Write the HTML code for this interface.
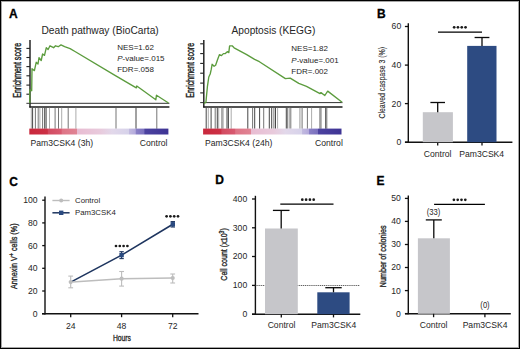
<!DOCTYPE html>
<html><head><meta charset="utf-8"><style>
html,body{margin:0;padding:0;background:#fff;}
body{width:520px;height:349px;overflow:hidden;}
svg{display:block;}
text{font-family:"Liberation Sans", sans-serif;}
</style></head><body>
<svg width="520" height="349" viewBox="0 0 520 349">
<rect width="520" height="349" fill="#fff"/>
<rect x="0.5" y="0.5" width="519" height="348" fill="none" stroke="#000" stroke-width="1"/>
<rect x="1.5" y="1.5" width="517" height="346" fill="none" stroke="#000" stroke-opacity="0.35" stroke-width="1"/>
<text x="9" y="17.8" font-size="12" text-anchor="start" font-weight="bold" fill="#000" stroke="#000" stroke-width="0.3">A</text>
<text x="377" y="17.6" font-size="12" text-anchor="start" font-weight="bold" fill="#000" stroke="#000" stroke-width="0.3">B</text>
<text x="9.3" y="185.6" font-size="12" text-anchor="start" font-weight="bold" fill="#000" stroke="#000" stroke-width="0.3">C</text>
<text x="215.2" y="184.4" font-size="12" text-anchor="start" font-weight="bold" fill="#000" stroke="#000" stroke-width="0.3">D</text>
<text x="376.5" y="184.6" font-size="12" text-anchor="start" font-weight="bold" fill="#000" stroke="#000" stroke-width="0.3">E</text>
<text x="41.5" y="34" font-size="10.2" text-anchor="start" font-weight="normal" fill="#262626" >Death pathway (BioCarta)</text>
<text transform="translate(20.6,70.35) rotate(-90)" font-size="10" text-anchor="middle" fill="#1e1e1e" stroke="#1e1e1e" stroke-width="0.4" textLength="55" lengthAdjust="spacingAndGlyphs">Enrichment score</text>
<line x1="26.4" y1="48.4" x2="30" y2="48.4" stroke="#222" stroke-width="1.1" />
<line x1="26.4" y1="57.5" x2="30" y2="57.5" stroke="#222" stroke-width="1.1" />
<line x1="26.4" y1="66.6" x2="30" y2="66.6" stroke="#222" stroke-width="1.1" />
<line x1="26.4" y1="75.8" x2="30" y2="75.8" stroke="#222" stroke-width="1.1" />
<line x1="26.4" y1="85.1" x2="30" y2="85.1" stroke="#222" stroke-width="1.1" />
<line x1="26.4" y1="94.2" x2="30" y2="94.2" stroke="#222" stroke-width="1.1" />
<line x1="26.4" y1="103.3" x2="169.4" y2="103.3" stroke="#333" stroke-width="1.0" />
<line x1="30" y1="40" x2="30" y2="107.6" stroke="#262626" stroke-width="1.5" />
<line x1="29.4" y1="107" x2="169.4" y2="107" stroke="#1a1a1a" stroke-width="1.4" />
<line x1="31.3" y1="107.8" x2="31.3" y2="128.8" stroke="#a8a8a8" stroke-width="0.95" />
<line x1="32.6" y1="107.8" x2="32.6" y2="128.8" stroke="#3c3c3c" stroke-width="0.95" />
<line x1="35.4" y1="107.8" x2="35.4" y2="128.8" stroke="#6e6e6e" stroke-width="0.95" />
<line x1="38.2" y1="107.8" x2="38.2" y2="128.8" stroke="#6e6e6e" stroke-width="0.95" />
<line x1="39.9" y1="107.8" x2="39.9" y2="128.8" stroke="#a8a8a8" stroke-width="0.95" />
<line x1="42.6" y1="107.8" x2="42.6" y2="128.8" stroke="#6e6e6e" stroke-width="0.95" />
<line x1="44.7" y1="107.8" x2="44.7" y2="128.8" stroke="#3c3c3c" stroke-width="0.95" />
<line x1="46.1" y1="107.8" x2="46.1" y2="128.8" stroke="#3c3c3c" stroke-width="0.95" />
<line x1="49.5" y1="107.8" x2="49.5" y2="128.8" stroke="#a8a8a8" stroke-width="0.95" />
<line x1="55.1" y1="107.8" x2="55.1" y2="128.8" stroke="#6e6e6e" stroke-width="0.95" />
<line x1="58.5" y1="107.8" x2="58.5" y2="128.8" stroke="#6e6e6e" stroke-width="0.95" />
<line x1="61.7" y1="107.8" x2="61.7" y2="128.8" stroke="#a8a8a8" stroke-width="0.95" />
<line x1="68.2" y1="107.8" x2="68.2" y2="128.8" stroke="#6e6e6e" stroke-width="0.95" />
<line x1="75.9" y1="107.8" x2="75.9" y2="128.8" stroke="#a8a8a8" stroke-width="0.95" />
<line x1="116" y1="107.8" x2="116" y2="128.8" stroke="#6e6e6e" stroke-width="0.95" />
<line x1="136" y1="107.8" x2="136" y2="128.8" stroke="#3c3c3c" stroke-width="0.95" />
<line x1="156.8" y1="107.8" x2="156.8" y2="128.8" stroke="#6e6e6e" stroke-width="0.95" />
<defs><linearGradient id="g30" x1="0" x2="1" y1="0" y2="0"><stop offset="0" stop-color="#c9283c"/><stop offset="0.13" stop-color="#cc3045"/><stop offset="0.135" stop-color="#d24a60"/><stop offset="0.23" stop-color="#d85a70"/><stop offset="0.235" stop-color="#de7486"/><stop offset="0.343" stop-color="#e08494"/><stop offset="0.345" stop-color="#e8bcd2"/><stop offset="0.509" stop-color="#e8cadc"/><stop offset="0.595" stop-color="#e2d8ea"/><stop offset="0.714" stop-color="#d6d2ea"/><stop offset="0.717" stop-color="#c2badf"/><stop offset="0.763" stop-color="#b4aadc"/><stop offset="0.765" stop-color="#8a80c6"/><stop offset="0.827" stop-color="#7a70be"/><stop offset="0.829" stop-color="#4c42a0"/><stop offset="1" stop-color="#3e3494"/></linearGradient></defs>
<rect x="29.3" y="128.6" width="139.1" height="5.9" fill="url(#g30)"/>
<polyline points="29.8,103.3 29.8,89.8 31.7,90.7 32,68.7 34.4,70.6 36.2,62.3 38,64 39,57.7 41.2,60.5 42.6,54 44.5,55.4 46.3,47.7 48.1,49.5 50,45.8 53.6,47.7 55.5,45.8 58.2,46.7 61,44.9 64.6,46.7 70.1,48.6 75,51.5 115.4,75.7 136.3,87.8 136.8,86.0 155.8,99.8 156.5,95.2 168.5,103" fill="none" stroke="#5c9c3e" stroke-width="1.35" stroke-linejoin="round"/>
<text x="117.2" y="50.1" font-size="8" text-anchor="start" font-weight="normal" fill="#262626" >NES=1.62</text>
<text x="117.2" y="61.1" font-size="8" fill="#262626"><tspan font-style="italic">P</tspan>-value=.015</text>
<text x="117.2" y="72.0" font-size="8" text-anchor="start" font-weight="normal" fill="#262626" >FDR=.058</text>
<text x="30.5" y="146.0" font-size="8.6" text-anchor="start" font-weight="normal" fill="#262626" >Pam3CSK4 (3h)</text>
<text x="167.5" y="146.0" font-size="8.6" text-anchor="end" font-weight="normal" fill="#262626" >Control</text>
<text x="231.5" y="33.5" font-size="10.2" text-anchor="start" font-weight="normal" fill="#262626" >Apoptosis (KEGG)</text>
<text transform="translate(194.0,70.35) rotate(-90)" font-size="10" text-anchor="middle" fill="#1e1e1e" stroke="#1e1e1e" stroke-width="0.4" textLength="55" lengthAdjust="spacingAndGlyphs">Enrichment score</text>
<line x1="200.20000000000002" y1="43.8" x2="203.8" y2="43.8" stroke="#222" stroke-width="1.1" />
<line x1="200.20000000000002" y1="53.6" x2="203.8" y2="53.6" stroke="#222" stroke-width="1.1" />
<line x1="200.20000000000002" y1="63.4" x2="203.8" y2="63.4" stroke="#222" stroke-width="1.1" />
<line x1="200.20000000000002" y1="73.2" x2="203.8" y2="73.2" stroke="#222" stroke-width="1.1" />
<line x1="200.20000000000002" y1="83.1" x2="203.8" y2="83.1" stroke="#222" stroke-width="1.1" />
<line x1="200.20000000000002" y1="92.9" x2="203.8" y2="92.9" stroke="#222" stroke-width="1.1" />
<line x1="200.20000000000002" y1="102.6" x2="342.5" y2="102.6" stroke="#333" stroke-width="1.0" />
<line x1="203.8" y1="40" x2="203.8" y2="107.6" stroke="#262626" stroke-width="1.5" />
<line x1="203.20000000000002" y1="107" x2="342.5" y2="107" stroke="#1a1a1a" stroke-width="1.4" />
<line x1="206.2" y1="107.8" x2="206.2" y2="128.8" stroke="#3c3c3c" stroke-width="0.95" />
<line x1="208.3" y1="107.8" x2="208.3" y2="128.8" stroke="#a8a8a8" stroke-width="0.95" />
<line x1="211.1" y1="107.8" x2="211.1" y2="128.8" stroke="#3c3c3c" stroke-width="0.95" />
<line x1="215.2" y1="107.8" x2="215.2" y2="128.8" stroke="#6e6e6e" stroke-width="0.95" />
<line x1="217.3" y1="107.8" x2="217.3" y2="128.8" stroke="#3c3c3c" stroke-width="0.95" />
<line x1="218.7" y1="107.8" x2="218.7" y2="128.8" stroke="#a8a8a8" stroke-width="0.95" />
<line x1="221.5" y1="107.8" x2="221.5" y2="128.8" stroke="#a8a8a8" stroke-width="0.95" />
<line x1="222.9" y1="107.8" x2="222.9" y2="128.8" stroke="#6e6e6e" stroke-width="0.95" />
<line x1="227.0" y1="107.8" x2="227.0" y2="128.8" stroke="#3c3c3c" stroke-width="0.95" />
<line x1="228.4" y1="107.8" x2="228.4" y2="128.8" stroke="#3c3c3c" stroke-width="0.95" />
<line x1="231.2" y1="107.8" x2="231.2" y2="128.8" stroke="#a8a8a8" stroke-width="0.95" />
<line x1="247.8" y1="107.8" x2="247.8" y2="128.8" stroke="#3c3c3c" stroke-width="0.95" />
<line x1="252.6" y1="107.8" x2="252.6" y2="128.8" stroke="#6e6e6e" stroke-width="0.95" />
<line x1="254.7" y1="107.8" x2="254.7" y2="128.8" stroke="#3c3c3c" stroke-width="0.95" />
<line x1="259.6" y1="107.8" x2="259.6" y2="128.8" stroke="#3c3c3c" stroke-width="0.95" />
<line x1="263.7" y1="107.8" x2="263.7" y2="128.8" stroke="#6e6e6e" stroke-width="0.95" />
<line x1="269.3" y1="107.8" x2="269.3" y2="128.8" stroke="#3c3c3c" stroke-width="0.95" />
<line x1="271.7" y1="107.8" x2="271.7" y2="128.8" stroke="#3c3c3c" stroke-width="0.95" />
<line x1="273.9" y1="107.8" x2="273.9" y2="128.8" stroke="#6e6e6e" stroke-width="0.95" />
<line x1="275.5" y1="107.8" x2="275.5" y2="128.8" stroke="#3c3c3c" stroke-width="0.95" />
<line x1="277.6" y1="107.8" x2="277.6" y2="128.8" stroke="#a8a8a8" stroke-width="0.95" />
<line x1="286.3" y1="107.8" x2="286.3" y2="128.8" stroke="#3c3c3c" stroke-width="0.95" />
<line x1="287.7" y1="107.8" x2="287.7" y2="128.8" stroke="#6e6e6e" stroke-width="0.95" />
<line x1="289.4" y1="107.8" x2="289.4" y2="128.8" stroke="#a8a8a8" stroke-width="0.95" />
<line x1="290.8" y1="107.8" x2="290.8" y2="128.8" stroke="#6e6e6e" stroke-width="0.95" />
<line x1="299.8" y1="107.8" x2="299.8" y2="128.8" stroke="#a8a8a8" stroke-width="0.95" />
<line x1="301.2" y1="107.8" x2="301.2" y2="128.8" stroke="#a8a8a8" stroke-width="0.95" />
<line x1="302.5" y1="107.8" x2="302.5" y2="128.8" stroke="#a8a8a8" stroke-width="0.95" />
<line x1="307.4" y1="107.8" x2="307.4" y2="128.8" stroke="#6e6e6e" stroke-width="0.95" />
<line x1="311.6" y1="107.8" x2="311.6" y2="128.8" stroke="#a8a8a8" stroke-width="0.95" />
<line x1="319.9" y1="107.8" x2="319.9" y2="128.8" stroke="#6e6e6e" stroke-width="0.95" />
<line x1="321.0" y1="107.8" x2="321.0" y2="128.8" stroke="#6e6e6e" stroke-width="0.95" />
<line x1="325.7" y1="107.8" x2="325.7" y2="128.8" stroke="#3c3c3c" stroke-width="0.95" />
<line x1="326.8" y1="107.8" x2="326.8" y2="128.8" stroke="#6e6e6e" stroke-width="0.95" />
<defs><linearGradient id="g203" x1="0" x2="1" y1="0" y2="0"><stop offset="0" stop-color="#c9283c"/><stop offset="0.13" stop-color="#cc3045"/><stop offset="0.135" stop-color="#d24a60"/><stop offset="0.23" stop-color="#d85a70"/><stop offset="0.235" stop-color="#de7486"/><stop offset="0.343" stop-color="#e08494"/><stop offset="0.345" stop-color="#e8bcd2"/><stop offset="0.509" stop-color="#e8cadc"/><stop offset="0.595" stop-color="#e2d8ea"/><stop offset="0.714" stop-color="#d6d2ea"/><stop offset="0.717" stop-color="#c2badf"/><stop offset="0.763" stop-color="#b4aadc"/><stop offset="0.765" stop-color="#8a80c6"/><stop offset="0.827" stop-color="#7a70be"/><stop offset="0.829" stop-color="#4c42a0"/><stop offset="1" stop-color="#3e3494"/></linearGradient></defs>
<rect x="203.1" y="128.6" width="138.4" height="5.9" fill="url(#g203)"/>
<polyline points="203.9,103.3 205.9,102.3 207.4,86.7 208.8,77 210.2,74 211.3,69.2 212.1,64.3 214.1,66.3 215.6,65.3 217.6,59.5 219.5,54.6 221.5,55.6 223.4,53.6 225.3,53.6 227.3,51.7 228.8,52.6 229.6,45.8 232.2,45.8 234.1,47.8 246.7,54.6 254.6,59.4 259.4,61.7 285.4,78.6 290.2,78.2 298.8,83.4 306.5,86.3 320,93.6 321,92.6 324.8,95.5 327.7,91.1 342.1,102.3" fill="none" stroke="#5c9c3e" stroke-width="1.35" stroke-linejoin="round"/>
<text x="291.3" y="51.3" font-size="8" text-anchor="start" font-weight="normal" fill="#262626" >NES=1.82</text>
<text x="291.3" y="62.8" font-size="8" fill="#262626"><tspan font-style="italic">P</tspan>-value=.001</text>
<text x="291.3" y="73.9" font-size="8" text-anchor="start" font-weight="normal" fill="#262626" >FDR=.002</text>
<text x="205" y="146.0" font-size="8.6" text-anchor="start" font-weight="normal" fill="#262626" >Pam3CSK4 (24h)</text>
<text x="342.8" y="146.0" font-size="8.6" text-anchor="end" font-weight="normal" fill="#262626" >Control</text>
<line x1="408.3" y1="23.3" x2="408.3" y2="142.79999999999998" stroke="#111" stroke-width="1.4" />
<line x1="404.90000000000003" y1="26.5" x2="408.3" y2="26.5" stroke="#111" stroke-width="1.3" />
<text transform="translate(401.2,29.4) scale(0.97,1)" font-size="8.9" text-anchor="end" font-weight="normal" fill="#262626" >60</text>
<line x1="404.90000000000003" y1="65.1" x2="408.3" y2="65.1" stroke="#111" stroke-width="1.3" />
<text transform="translate(401.2,68.0) scale(0.97,1)" font-size="8.9" text-anchor="end" font-weight="normal" fill="#262626" >40</text>
<line x1="404.90000000000003" y1="103.6" x2="408.3" y2="103.6" stroke="#111" stroke-width="1.3" />
<text transform="translate(401.2,106.5) scale(0.97,1)" font-size="8.9" text-anchor="end" font-weight="normal" fill="#262626" >20</text>
<line x1="404.90000000000003" y1="142.2" x2="408.3" y2="142.2" stroke="#111" stroke-width="1.3" />
<text transform="translate(401.2,145.1) scale(0.97,1)" font-size="8.9" text-anchor="end" font-weight="normal" fill="#262626" >0</text>
<line x1="405" y1="142.2" x2="512.4" y2="142.2" stroke="#111" stroke-width="1.4" />
<line x1="437.7" y1="142.2" x2="437.7" y2="145.6" stroke="#111" stroke-width="1.3" />
<line x1="482" y1="142.2" x2="482" y2="145.6" stroke="#111" stroke-width="1.3" />
<rect x="422.8" y="112.2" width="30.1" height="30" fill="#c6c6ca"/>
<line x1="437.7" y1="102.5" x2="437.7" y2="112.2" stroke="#0a0a0a" stroke-width="1.3" />
<line x1="430.4" y1="102.5" x2="445.0" y2="102.5" stroke="#0a0a0a" stroke-width="1.3" />
<rect x="467.2" y="45.9" width="29.3" height="96.3" fill="#2d4b82"/>
<line x1="482" y1="37.5" x2="482" y2="45.9" stroke="#0a0a0a" stroke-width="1.3" />
<line x1="474.6" y1="37.5" x2="489.4" y2="37.5" stroke="#0a0a0a" stroke-width="1.3" />
<line x1="438" y1="32.2" x2="482" y2="32.2" stroke="#000" stroke-width="1.3" />
<circle cx="454.15" cy="27.3" r="1.35" fill="#1a1a1a"/>
<circle cx="457.95" cy="27.3" r="1.35" fill="#1a1a1a"/>
<circle cx="461.75" cy="27.3" r="1.35" fill="#1a1a1a"/>
<circle cx="465.55" cy="27.3" r="1.35" fill="#1a1a1a"/>
<text x="437.6" y="156.7" font-size="8.6" text-anchor="middle" font-weight="normal" fill="#262626" >Control</text>
<text x="481.7" y="156.7" font-size="8.6" text-anchor="middle" font-weight="normal" fill="#262626" >Pam3CSK4</text>
<text transform="translate(385.0,82.8) rotate(-90)" x="0" y="0" font-size="9.4" font-weight="normal" text-anchor="middle" fill="#262626" stroke="#262626" stroke-width="0.1" textLength="71.5" lengthAdjust="spacingAndGlyphs">Cleaved caspase 3 (%)</text>
<line x1="45" y1="196.5" x2="45" y2="314.40000000000003" stroke="#111" stroke-width="1.4" />
<line x1="42.2" y1="200.2" x2="45" y2="200.2" stroke="#111" stroke-width="1.3" />
<text transform="translate(37.6,203.1) scale(0.97,1)" font-size="8.9" text-anchor="end" font-weight="normal" fill="#262626" >100</text>
<line x1="42.2" y1="222.9" x2="45" y2="222.9" stroke="#111" stroke-width="1.3" />
<text transform="translate(37.6,225.8) scale(0.97,1)" font-size="8.9" text-anchor="end" font-weight="normal" fill="#262626" >80</text>
<line x1="42.2" y1="245.6" x2="45" y2="245.6" stroke="#111" stroke-width="1.3" />
<text transform="translate(37.6,248.5) scale(0.97,1)" font-size="8.9" text-anchor="end" font-weight="normal" fill="#262626" >60</text>
<line x1="42.2" y1="268.3" x2="45" y2="268.3" stroke="#111" stroke-width="1.3" />
<text transform="translate(37.6,271.2) scale(0.97,1)" font-size="8.9" text-anchor="end" font-weight="normal" fill="#262626" >40</text>
<line x1="42.2" y1="291.0" x2="45" y2="291.0" stroke="#111" stroke-width="1.3" />
<text transform="translate(37.6,293.9) scale(0.97,1)" font-size="8.9" text-anchor="end" font-weight="normal" fill="#262626" >20</text>
<line x1="42.2" y1="313.7" x2="45" y2="313.7" stroke="#111" stroke-width="1.3" />
<text transform="translate(37.6,316.59999999999997) scale(0.97,1)" font-size="8.9" text-anchor="end" font-weight="normal" fill="#262626" >0</text>
<line x1="42" y1="313.8" x2="198.5" y2="313.8" stroke="#111" stroke-width="1.4" />
<line x1="70.7" y1="313.8" x2="70.7" y2="317.2" stroke="#111" stroke-width="1.3" />
<text transform="translate(70.7,328.8) scale(0.97,1)" font-size="8.9" text-anchor="middle" font-weight="normal" fill="#262626" >24</text>
<line x1="121.6" y1="313.8" x2="121.6" y2="317.2" stroke="#111" stroke-width="1.3" />
<text transform="translate(121.6,328.8) scale(0.97,1)" font-size="8.9" text-anchor="middle" font-weight="normal" fill="#262626" >48</text>
<line x1="172.7" y1="313.8" x2="172.7" y2="317.2" stroke="#111" stroke-width="1.3" />
<text transform="translate(172.7,328.8) scale(0.97,1)" font-size="8.9" text-anchor="middle" font-weight="normal" fill="#262626" >72</text>
<text x="121.9" y="340.7" font-size="9.8" text-anchor="middle" fill="#262626" stroke="#262626" stroke-width="0.35" textLength="18" lengthAdjust="spacingAndGlyphs">Hours</text>
<text transform="translate(17.4,256.2) rotate(-90)" x="0" y="0" font-size="9.4" font-weight="normal" text-anchor="middle" fill="#262626" stroke="#262626" stroke-width="0.35" textLength="65.6" lengthAdjust="spacingAndGlyphs">Annexin V<tspan font-size="6.6" dy="-3.4">+</tspan><tspan dy="3.4"> cells (%)</tspan></text>
<line x1="121.6" y1="251.7" x2="121.6" y2="258.6" stroke="#1e355f" stroke-width="1.1" />
<line x1="119.39999999999999" y1="251.7" x2="123.8" y2="251.7" stroke="#1e355f" stroke-width="1.1" />
<line x1="119.39999999999999" y1="258.6" x2="123.8" y2="258.6" stroke="#1e355f" stroke-width="1.1" />
<line x1="172.8" y1="221.6" x2="172.8" y2="227.0" stroke="#1e355f" stroke-width="1.1" />
<line x1="170.60000000000002" y1="221.6" x2="175.0" y2="221.6" stroke="#1e355f" stroke-width="1.1" />
<line x1="170.60000000000002" y1="227.0" x2="175.0" y2="227.0" stroke="#1e355f" stroke-width="1.1" />
<polyline points="70.7,282.1 121.6,255.1 172.8,224.3" fill="none" stroke="#1e355f" stroke-width="1.6"/>
<rect x="119.39999999999999" y="252.9" width="4.4" height="4.4" fill="#2a4a80"/>
<rect x="170.60000000000002" y="222.10000000000002" width="4.4" height="4.4" fill="#2a4a80"/>
<line x1="70.7" y1="276.1" x2="70.7" y2="287.8" stroke="#bdbdbd" stroke-width="1.1" />
<line x1="68.3" y1="276.1" x2="73.10000000000001" y2="276.1" stroke="#bdbdbd" stroke-width="1.1" />
<line x1="68.3" y1="287.8" x2="73.10000000000001" y2="287.8" stroke="#bdbdbd" stroke-width="1.1" />
<line x1="121.6" y1="271.5" x2="121.6" y2="286.1" stroke="#bdbdbd" stroke-width="1.1" />
<line x1="119.19999999999999" y1="271.5" x2="124.0" y2="271.5" stroke="#bdbdbd" stroke-width="1.1" />
<line x1="119.19999999999999" y1="286.1" x2="124.0" y2="286.1" stroke="#bdbdbd" stroke-width="1.1" />
<line x1="172.7" y1="274.0" x2="172.7" y2="283.0" stroke="#bdbdbd" stroke-width="1.1" />
<line x1="170.29999999999998" y1="274.0" x2="175.1" y2="274.0" stroke="#bdbdbd" stroke-width="1.1" />
<line x1="170.29999999999998" y1="283.0" x2="175.1" y2="283.0" stroke="#bdbdbd" stroke-width="1.1" />
<polyline points="72.5,281.98 121.6,278.7 172.7,278.0" fill="none" stroke="#bdbdbd" stroke-width="1.5"/>
<circle cx="70.7" cy="282.1" r="2.1" fill="#bdbdbd"/>
<circle cx="121.6" cy="278.7" r="2.1" fill="#bdbdbd"/>
<circle cx="172.7" cy="278.0" r="2.1" fill="#bdbdbd"/>
<circle cx="116.00" cy="246.0" r="1.35" fill="#1a1a1a"/>
<circle cx="119.80" cy="246.0" r="1.35" fill="#1a1a1a"/>
<circle cx="123.60" cy="246.0" r="1.35" fill="#1a1a1a"/>
<circle cx="127.40" cy="246.0" r="1.35" fill="#1a1a1a"/>
<circle cx="166.60" cy="216.3" r="1.35" fill="#1a1a1a"/>
<circle cx="170.40" cy="216.3" r="1.35" fill="#1a1a1a"/>
<circle cx="174.20" cy="216.3" r="1.35" fill="#1a1a1a"/>
<circle cx="178.00" cy="216.3" r="1.35" fill="#1a1a1a"/>
<line x1="52.4" y1="200.5" x2="69.6" y2="200.5" stroke="#bdbdbd" stroke-width="1.4" />
<circle cx="61.2" cy="200.5" r="2" fill="#bdbdbd"/>
<line x1="52.4" y1="212.8" x2="69.6" y2="212.8" stroke="#1e355f" stroke-width="1.5" />
<rect x="59" y="210.6" width="4.4" height="4.4" fill="#2a4a80"/>
<text x="75" y="203.1" font-size="7.8" text-anchor="start" font-weight="normal" fill="#262626" >Control</text>
<text x="75" y="215.4" font-size="7.8" text-anchor="start" font-weight="normal" fill="#262626" >Pam3CSK4</text>
<line x1="255.4" y1="195.8" x2="255.4" y2="314.8" stroke="#111" stroke-width="1.4" />
<line x1="252.0" y1="199.0" x2="255.4" y2="199.0" stroke="#111" stroke-width="1.3" />
<text transform="translate(247.2,201.9) scale(0.97,1)" font-size="8.9" text-anchor="end" font-weight="normal" fill="#262626" >400</text>
<line x1="252.0" y1="227.8" x2="255.4" y2="227.8" stroke="#111" stroke-width="1.3" />
<text transform="translate(247.2,230.70000000000002) scale(0.97,1)" font-size="8.9" text-anchor="end" font-weight="normal" fill="#262626" >300</text>
<line x1="252.0" y1="256.5" x2="255.4" y2="256.5" stroke="#111" stroke-width="1.3" />
<text transform="translate(247.2,259.4) scale(0.97,1)" font-size="8.9" text-anchor="end" font-weight="normal" fill="#262626" >200</text>
<line x1="252.0" y1="285.4" x2="255.4" y2="285.4" stroke="#111" stroke-width="1.3" />
<text transform="translate(247.2,288.29999999999995) scale(0.97,1)" font-size="8.9" text-anchor="end" font-weight="normal" fill="#262626" >100</text>
<line x1="252.0" y1="314.2" x2="255.4" y2="314.2" stroke="#111" stroke-width="1.3" />
<text transform="translate(247.2,317.09999999999997) scale(0.97,1)" font-size="8.9" text-anchor="end" font-weight="normal" fill="#262626" >0</text>
<line x1="252" y1="314.2" x2="360.3" y2="314.2" stroke="#111" stroke-width="1.4" />
<line x1="255.4" y1="285.5" x2="360" y2="285.5" stroke="#3a3a3a" stroke-width="0.8" stroke-dasharray="1.2,0.7"/>
<rect x="265" y="228.5" width="32.8" height="85.7" fill="#c6c6ca"/>
<rect x="317.3" y="292.3" width="32.3" height="21.9" fill="#2d4b82"/>
<line x1="281.2" y1="210.4" x2="281.2" y2="228.5" stroke="#0a0a0a" stroke-width="1.3" />
<line x1="272.9" y1="210.4" x2="289.5" y2="210.4" stroke="#0a0a0a" stroke-width="1.3" />
<line x1="333.5" y1="287.7" x2="333.5" y2="292.3" stroke="#0a0a0a" stroke-width="1.3" />
<line x1="325.3" y1="287.7" x2="341.7" y2="287.7" stroke="#0a0a0a" stroke-width="1.3" />
<line x1="281.3" y1="314.2" x2="281.3" y2="317.4" stroke="#111" stroke-width="1.3" />
<line x1="333.5" y1="314.2" x2="333.5" y2="317.4" stroke="#111" stroke-width="1.3" />
<line x1="280.3" y1="204.1" x2="333.5" y2="204.1" stroke="#000" stroke-width="1.3" />
<circle cx="302.30" cy="199.7" r="1.35" fill="#1a1a1a"/>
<circle cx="306.10" cy="199.7" r="1.35" fill="#1a1a1a"/>
<circle cx="309.90" cy="199.7" r="1.35" fill="#1a1a1a"/>
<circle cx="313.70" cy="199.7" r="1.35" fill="#1a1a1a"/>
<text x="281.5" y="328.4" font-size="8.6" text-anchor="middle" font-weight="normal" fill="#262626" >Control</text>
<text x="333.8" y="328.4" font-size="8.6" text-anchor="middle" font-weight="normal" fill="#262626" >Pam3CSK4</text>
<text transform="translate(226.9,254.5) rotate(-90)" x="0" y="0" font-size="9.4" font-weight="normal" text-anchor="middle" fill="#262626" stroke="#262626" stroke-width="0.35" textLength="52.5" lengthAdjust="spacingAndGlyphs">Cell count (x10<tspan font-size="6.6" dy="-3.4">3</tspan><tspan dy="3.4">)</tspan></text>
<line x1="408.3" y1="195.4" x2="408.3" y2="314.20000000000005" stroke="#111" stroke-width="1.4" />
<line x1="404.90000000000003" y1="198.4" x2="408.3" y2="198.4" stroke="#111" stroke-width="1.3" />
<text transform="translate(400.9,201.3) scale(0.97,1)" font-size="8.9" text-anchor="end" font-weight="normal" fill="#262626" >50</text>
<line x1="404.90000000000003" y1="221.4" x2="408.3" y2="221.4" stroke="#111" stroke-width="1.3" />
<text transform="translate(400.9,224.3) scale(0.97,1)" font-size="8.9" text-anchor="end" font-weight="normal" fill="#262626" >40</text>
<line x1="404.90000000000003" y1="244.5" x2="408.3" y2="244.5" stroke="#111" stroke-width="1.3" />
<text transform="translate(400.9,247.4) scale(0.97,1)" font-size="8.9" text-anchor="end" font-weight="normal" fill="#262626" >30</text>
<line x1="404.90000000000003" y1="267.5" x2="408.3" y2="267.5" stroke="#111" stroke-width="1.3" />
<text transform="translate(400.9,270.4) scale(0.97,1)" font-size="8.9" text-anchor="end" font-weight="normal" fill="#262626" >20</text>
<line x1="404.90000000000003" y1="290.6" x2="408.3" y2="290.6" stroke="#111" stroke-width="1.3" />
<text transform="translate(400.9,293.5) scale(0.97,1)" font-size="8.9" text-anchor="end" font-weight="normal" fill="#262626" >10</text>
<line x1="404.90000000000003" y1="313.6" x2="408.3" y2="313.6" stroke="#111" stroke-width="1.3" />
<text transform="translate(400.9,316.5) scale(0.97,1)" font-size="8.9" text-anchor="end" font-weight="normal" fill="#262626" >0</text>
<line x1="405" y1="313.8" x2="510.8" y2="313.8" stroke="#111" stroke-width="1.4" />
<rect x="417.9" y="238.3" width="32" height="75.5" fill="#c6c6ca"/>
<line x1="433.8" y1="219.9" x2="433.8" y2="238.3" stroke="#0a0a0a" stroke-width="1.3" />
<line x1="425.8" y1="219.9" x2="441.8" y2="219.9" stroke="#0a0a0a" stroke-width="1.3" />
<line x1="433.6" y1="313.8" x2="433.6" y2="317.2" stroke="#111" stroke-width="1.3" />
<line x1="484.9" y1="313.8" x2="484.9" y2="317.2" stroke="#111" stroke-width="1.3" />
<line x1="434.1" y1="204.4" x2="484.9" y2="204.4" stroke="#000" stroke-width="1.3" />
<circle cx="453.90" cy="199.8" r="1.35" fill="#1a1a1a"/>
<circle cx="457.70" cy="199.8" r="1.35" fill="#1a1a1a"/>
<circle cx="461.50" cy="199.8" r="1.35" fill="#1a1a1a"/>
<circle cx="465.30" cy="199.8" r="1.35" fill="#1a1a1a"/>
<text transform="translate(433.5,215.4) scale(0.93,1)" font-size="8.2" text-anchor="middle" font-weight="normal" fill="#262626" >(33)</text>
<text transform="translate(485.0,307.8) scale(0.93,1)" font-size="8.2" text-anchor="middle" font-weight="normal" fill="#262626" >(0)</text>
<text x="433.6" y="328.2" font-size="8.6" text-anchor="middle" font-weight="normal" fill="#262626" >Control</text>
<text x="485.1" y="328.2" font-size="8.6" text-anchor="middle" font-weight="normal" fill="#262626" >Pam3CSK4</text>
<text transform="translate(386.0,256.3) rotate(-90)" x="0" y="0" font-size="9.4" font-weight="normal" text-anchor="middle" fill="#262626" stroke="#262626" stroke-width="0.35" textLength="62" lengthAdjust="spacingAndGlyphs">Number of colonies</text>
</svg>
</body></html>
